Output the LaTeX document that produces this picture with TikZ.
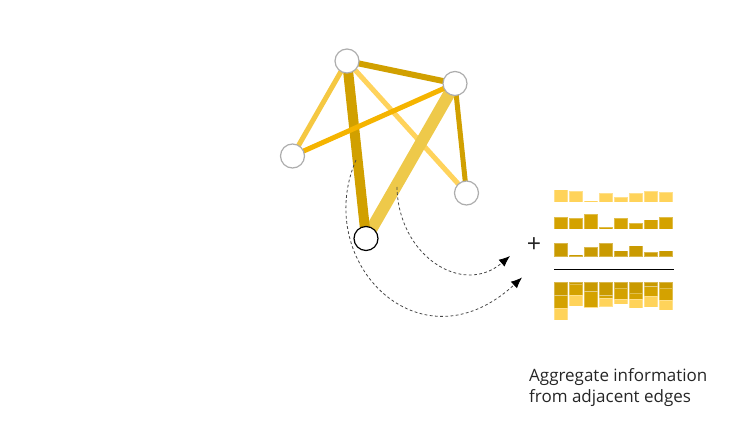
\documentclass[tikz,border=0pt]{standalone}
\usepackage{fontspec}
\setmainfont{Open Sans}
\usetikzlibrary{arrows.meta}
\definecolor{barlight}{HTML}{FFD35A}
\definecolor{barmid}{HTML}{D4A200}
\definecolor{bardark}{HTML}{C99A00}
\definecolor{edgedark}{HTML}{D1A000}
\definecolor{edgelight}{HTML}{FFD35C}
\definecolor{edgepale}{HTML}{F5C842}
\definecolor{edgegold}{HTML}{EEC94A}
\definecolor{edgeorange}{HTML}{F5B400}
\definecolor{txt}{HTML}{262626}
\pgfdeclarelayer{background}
\pgfsetlayers{background,main}
\begin{document}
\begin{tikzpicture}[x=1pt,y=-1pt,
  vertex/.style={circle,draw=black!32,line width=1.2pt,fill=white,minimum size=24pt,inner sep=0pt},
  focus/.style={vertex,draw=black},
  edge/.style={line cap=butt},
  flow/.style={draw=black!72,line width=0.8pt,dash pattern=on 2.8pt off 2.4pt,-{Latex[length=11pt,width=9pt,color=black]}},
  bar/.style={draw=white,draw opacity=0.3,line width=0.6pt},
  caption/.style={anchor=base west,inner sep=0pt,text=txt,font=\fontsize{17}{20}\selectfont}]
\useasboundingbox (0,0) rectangle (742,425);

% graph nodes
\node[vertex] (A) at (347,61) {};
\node[vertex] (B) at (455,83.5) {};
\node[vertex] (C) at (292.5,156) {};
\node[vertex] (D) at (466.5,193) {};
\node[focus]  (E) at (366,238.5) {};

\begin{pgfonlayer}{background}
\draw[edge,edgelight,line width=5pt] (A.center) -- (D.center);
\draw[edge,edgepale,line width=5pt] (A.center) -- (C.center);
\draw[edge,edgedark,line width=6pt] (A.center) -- (B.center);
\draw[edge,edgedark,line width=5pt] (B.center) -- (D.center);
\draw[edge,edgegold,line width=12pt] (B.center) -- (E.center);
\draw[edge,edgedark,line width=10pt] (A.center) -- (E.center);
\draw[edge,edgeorange,line width=5pt] (C.center) -- (B.center);
\end{pgfonlayer}

% flow arrows
\coordinate (s1) at (356,160);
\coordinate (t1) at (522,277.5);
\coordinate (s2) at (397,187);
\coordinate (t2) at (510,256);
\draw[flow] (s1) .. controls (312,262) and (420,372) .. (t1);
\draw[flow] (s2) .. controls (398,255) and (462,297) .. (t2);

% bar rows
\foreach \i/\a/\b/\c in {0/12.3/12.3/13.7, 1/11/11/2, 2/1.3/15.3/9.7, 3/8.7/2.3/13.7, 4/5/11/6, 5/8.7/6.3/11, 6/11/9.7/4.7, 7/10/12.3/6}{
  \pgfmathsetmacro{\x}{554+15*\i}
  \fill[barlight,bar] (\x,202) rectangle ++(13.5,-\a);
  \fill[barmid,bar] (\x,229.3) rectangle ++(13.5,-\b);
  \fill[bardark,bar] (\x,256.7) rectangle ++(13.5,-\c);
  \fill[bardark,bar] (\x,282) rectangle ++(13.5,\c);
  \fill[barmid,bar] (\x,282+\c) rectangle ++(13.5,\b);
  \fill[barlight,bar] (\x,282+\c+\b) rectangle ++(13.5,\a);
}
\coordinate (l1) at (554,269.3);
\coordinate (l2) at (674,269.3);
\draw[black,line width=1.4pt] (l1) -- (l2);
\node[text=txt,font=\fontsize{25}{25}\selectfont,inner sep=0pt] (plus) at (534,245.5) {+};

\node[caption] (cap1) at (529,381.5) {Aggregate information};
\node[caption] (cap2) at (529,402) {from adjacent edges};
\end{tikzpicture}
\end{document}
